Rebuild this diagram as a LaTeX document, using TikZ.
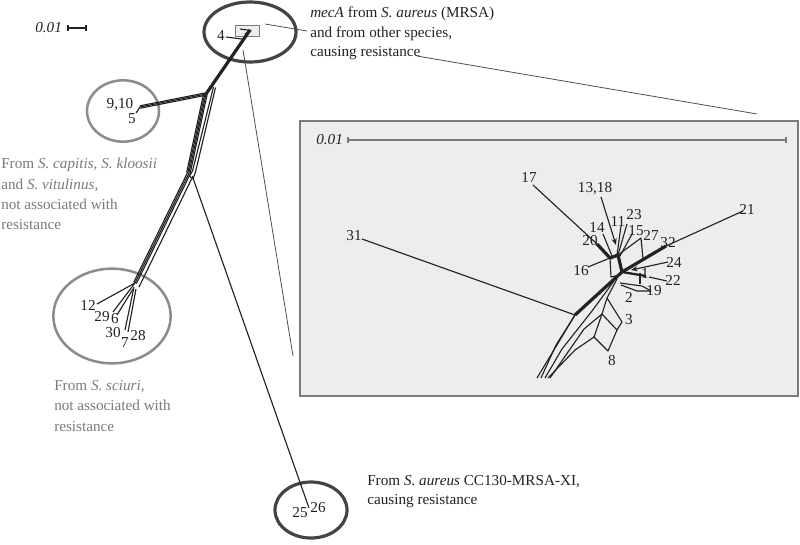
\documentclass[tikz,border=0pt]{standalone}
\usepackage{fontspec}
\setmainfont{Liberation Serif}
\usetikzlibrary{calc,arrows.meta}
\definecolor{ink}{HTML}{222222}
\definecolor{greytext}{HTML}{7A7A7A}
\definecolor{ringdark}{HTML}{444444}
\definecolor{ringlight}{HTML}{8C8C8C}
\definecolor{insetfill}{HTML}{EDEDED}
\definecolor{insetedge}{HTML}{7A7A7A}
\begin{document}
\begin{tikzpicture}[x=0.75pt,y=-0.75pt,
  lbl/.style={font=\fontsize{11.4}{13}\selectfont, inner sep=0pt, text=ink},
  glbl/.style={lbl, text=greytext},
  thinln/.style={draw=ink, line width=0.85pt, line join=round},
  leader/.style={draw=ink!80, line width=0.6pt},
  thickln/.style={draw=ink, line width=2.4pt, line join=round},
  midln/.style={draw=ink, line width=1.7pt, line join=round},
  ringA/.style={draw=ringdark, line width=2.4pt},
  ringB/.style={draw=ringlight, line width=1.9pt},
  scalebar/.style={draw=insetedge, line width=0.9pt},
  arr/.style={thinln, -{Stealth[length=5pt,width=4pt]}}
]
\useasboundingbox (0,0) rectangle (800,544);

% ---------- inset panel ----------
\draw[fill=insetfill, draw=insetedge, line width=1.2pt] (300,121) rectangle (798,396);

% ---------- ellipses ----------
\draw[ringA] (250,32) ellipse [x radius=34.5pt, y radius=22.5pt];
\draw[ringB] (123,111) ellipse [x radius=27pt, y radius=23pt];
\draw[ringB] (112,316) ellipse [x radius=44pt, y radius=35.5pt];
\draw[ringA] (311,510) ellipse [x radius=27pt, y radius=21pt];

% ---------- top-left scale ----------
\node[lbl, anchor=base west] (scA) at (35,32) {\textit{0.01}};
\coordinate (sa1) at (68,28); \coordinate (sa2) at (86,28);
\draw[thinln] (sa1) -- (sa2);
\draw[thinln] ($(sa1)+(0,-3)$) -- ($(sa1)+(0,3)$);
\draw[thinln] ($(sa2)+(0,-3)$) -- ($(sa2)+(0,3)$);

% ---------- main tree ----------
\coordinate (T) at (250,30);
\coordinate (N1) at (206,94);
\coordinate (N2) at (189,173);
\coordinate (S) at (135,283);
\coordinate (B) at (140,107);
\coordinate (Au) at (309,508);
\coordinate (Nr) at (193,178);

% small box at the root
\draw[fill=insetfill, draw=insetedge, line width=0.7pt] (235,25) rectangle (259,36);
\draw[thinln] (240,29) -- (251,30.5) -- (245,34);

\draw[thickln] (T) -- (N1);
% branch to 9,10 / 5
\foreach \o in {-1.2,0,1.2}
  \draw[thinln] ($(N1)+({0.193*\o},{0.981*\o})$) -- ($(B)+({0.193*\o},{0.981*\o})$);
\draw[thinln] (B) -- (136,113);
% bundle N1 -> N2
\foreach \o in {-2.4,-1.2,0,1.2}
  \draw[thinln] ($(N1)+({0.976*\o},{0.217*\o})$) -- ($(N2)+({0.976*\o},{0.217*\o})$);
\draw[thinln] (213.5,87) -- (192.5,171);
\draw[thinln] (215.5,87.5) -- (195.5,172);
% small diamond
\draw[thinln] (192.5,171) -- (189.5,176) -- (193,179) -- (195.5,172);
% bundle N2 -> S
\foreach \o in {-1.5,0,1.5}
  \draw[thinln] ($(N2)+({0.904*\o},{0.427*\o})$) -- ($(S)+({0.904*\o},{0.427*\o})$);
\draw[thinln] (193,176) -- (139,287);
% long branch to 25,26
\draw[thinln] (Nr) -- (Au);
% fan of the sciuri group
\draw[thinln] (S) -- (97,304);
\draw[thinln] (S) -- (113,312);
\draw[thinln] ($(S)+(-2,6)$) -- (117,315);
\draw[thinln] ($(S)+(-1,4)$) -- (125,330);
\draw[thinln] ($(S)+(1,6)$) -- (128,332);

% numbers on main tree
\node[lbl] (n4) at (221,35) {4};
\draw[thinln] (226,37) -- (242,39);
\node[lbl] (n910) at (120,105) {9,10};
\node[lbl] (n5) at (132,119) {5};
\node[lbl] (n12) at (88,305) {12};
\node[lbl] (n29) at (102,317) {29};
\node[lbl] (n6) at (115,319) {6};
\node[lbl] (n30) at (113,333) {30};
\node[lbl] (n7) at (125,343) {7};
\node[lbl] (n28) at (138,336) {28};
\node[lbl] (n25) at (300,513) {25};
\node[lbl] (n26) at (318,508) {26};

% ---------- leaders ----------
\draw[leader] (265,24) -- (307,31);
\draw[leader] (417,56) -- (757,114);
\draw[leader] (243,50) -- (293,356);

% ---------- text labels ----------
\node[lbl, anchor=base west] (m1) at (310,17) {\textit{mecA} from \textit{S. aureus} (MRSA)};
\node[lbl, anchor=base west] (m2) at (310,37) {and from other species,};
\node[lbl, anchor=base west] (m3) at (310,56) {causing resistance};

\node[glbl, anchor=base west] (c1) at (1,168) {From \textit{S. capitis, S. kloosii}};
\node[glbl, anchor=base west] (c2) at (1,189) {and \textit{S. vitulinus},};
\node[glbl, anchor=base west] (c3) at (1,209) {not associated with};
\node[glbl, anchor=base west] (c4) at (1,229) {resistance};

\node[glbl, anchor=base west] (s1) at (54,390) {From \textit{S. sciuri},};
\node[glbl, anchor=base west] (s2) at (54,410) {not associated with};
\node[glbl, anchor=base west] (s3) at (54,431) {resistance};

\node[lbl, anchor=base west] (a1) at (367,485) {From \textit{S. aureus} CC130-MRSA-XI,};
\node[lbl, anchor=base west] (a2) at (367,504) {causing resistance};

% ---------- inset scale ----------
\node[lbl, anchor=base west] (scB) at (316,144) {\textit{0.01}};
\coordinate (sb1) at (348,140); \coordinate (sb2) at (786,140);
\draw[scalebar] (sb1) -- (sb2);
\draw[scalebar] ($(sb1)+(0,-3)$) -- ($(sb1)+(0,3)$);
\draw[scalebar] ($(sb2)+(0,-3)$) -- ($(sb2)+(0,3)$);

% ---------- inset tree ----------
\coordinate (H) at (622,272);
\coordinate (U) at (618,255);
\coordinate (L) at (610,258);
\coordinate (Q) at (641,238);
\coordinate (C1) at (575,315);
\coordinate (P32) at (666,246);
\coordinate (P1) at (646,276);
\coordinate (P20) at (597,244);

\draw[thickln] (P20) -- (L) -- (U) -- (H);
\draw[thickln] (H) -- (P32);
\draw[thickln] (H) -- (C1);
\draw[midln] (H) -- (P1);
\draw[thinln] (533,185) -- (P20);
\draw[thinln] (603,234) -- (612,256);
\draw[arr] (601,197) -- (616,245);
\draw[thinln] (621,226) -- (617,255);
\draw[thinln] (627,224) -- (618,255);
\draw[thinln] (632,234) -- (620,256);
\draw[thinln] (U) -- (Q) -- (643,259);
\draw[thinln] (P32) -- (743,211);
\draw[arr] (668,262) -- (631,270);
\draw[thinln] (649,277) -- (667,281);
\draw[thinln] (640,273) -- (640,284);
\draw[thinln] (588,267) -- (L);
\draw[thinln] (L) -- (611,277) -- (620,275);
% 19 lens
\draw[thinln] (620,283) -- (642,286) -- (651,291);
\draw[thinln] (621,285) -- (637,291) -- (651,291);
% long 31
\draw[thinln] (362,239) -- (C1);
% lower bundle
\draw[thinln] (C1) -- (537,378);
\draw[thinln] (C1) -- (556,345) -- (541,378);
\draw[thinln] (617,279) -- (607,298);
\draw[thinln] (614,281) -- (592,311) -- (562,349) -- (545,378);
\draw[thinln] (607,298) -- (602,314);
\draw[thinln] (607,298) -- (622,322) -- (617,330) -- (602,314);
\draw[thinln] (602,314) -- (594,337) -- (608,351) -- (617,330);
\draw[thinln] (602,314) -- (584,329) -- (550,378);
\draw[thinln] (594,337) -- (575,350) -- (548,378);

% inset numbers
\node[lbl] (i17) at (529,177) {17};
\node[lbl] (i1318) at (595,189) {13,18};
\node[lbl] (i11) at (618,221) {11};
\node[lbl] (i23) at (634,215) {23};
\node[lbl] (i14) at (597,227) {14};
\node[lbl] (i15) at (636,231) {15};
\node[lbl] (i27) at (651,235) {27};
\node[lbl] (i20) at (590,241) {20};
\node[lbl] (i32) at (668,243) {32};
\node[lbl] (i21) at (747,209) {21};
\node[lbl] (i31) at (354,236) {31};
\node[lbl] (i16) at (581,271) {16};
\node[lbl] (i24) at (674,262) {24};
\node[lbl] (i1) at (645,273) {1};
\node[lbl] (i22) at (673,280) {22};
\node[lbl] (i19) at (654,291) {19};
\node[lbl] (i2) at (629,297) {2};
\node[lbl] (i3) at (629,320) {3};
\node[lbl] (i8) at (612,361) {8};
\end{tikzpicture}
\end{document}
